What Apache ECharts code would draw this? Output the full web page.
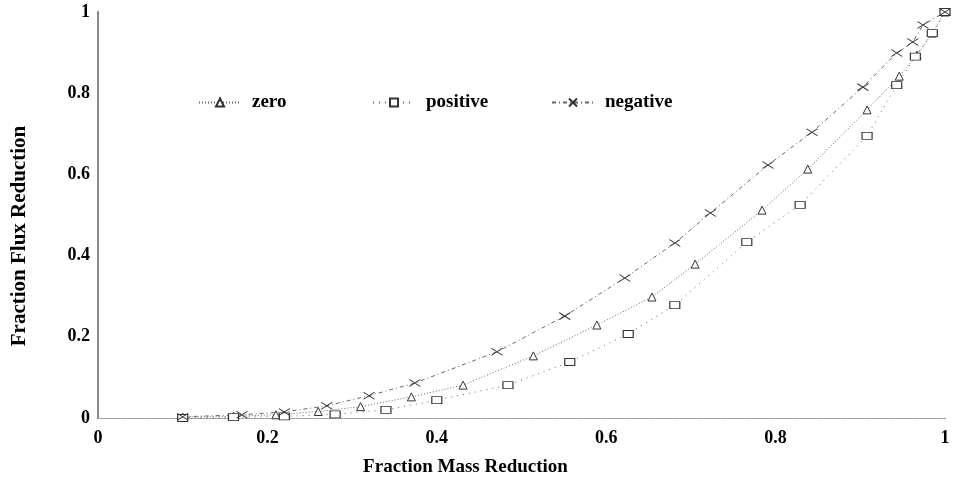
<!DOCTYPE html>
<html><head><meta charset="utf-8">
<script src="https://cdn.jsdelivr.net/npm/echarts@6/dist/echarts.min.js"></script>
<style>html,body{margin:0;padding:0;background:#fff}#c{width:953px;height:477px}</style>
</head><body><div id="c"></div>
<script>
const xTicks = [0, 0.2, 0.4, 0.6, 0.8, 1];
const yTicks = [0, 0.2, 0.4, 0.6, 0.8, 1];
const seriesNames = ['zero', 'positive', 'negative'];
const zeroData = [[0.10,0.002],[0.16,0.004],[0.21,0.008],[0.26,0.016],[0.31,0.028],[0.37,0.052],[0.431,0.081],[0.514,0.153],[0.589,0.229],[0.654,0.298],[0.705,0.379],[0.784,0.512],[0.838,0.613],[0.908,0.759],[0.946,0.842],[0.967,0.894],[0.985,0.948],[1.0,1.0]];
const positiveData = [[0.10,0.0],[0.16,0.002],[0.22,0.004],[0.28,0.009],[0.34,0.02],[0.40,0.044],[0.484,0.081],[0.557,0.138],[0.626,0.207],[0.681,0.278],[0.766,0.433],[0.829,0.525],[0.908,0.695],[0.943,0.82],[0.965,0.89],[0.985,0.948],[1.0,1.0]];
const negativeData = [[0.10,0.003],[0.17,0.008],[0.22,0.015],[0.27,0.03],[0.32,0.055],[0.374,0.086],[0.471,0.163],[0.551,0.251],[0.622,0.345],[0.681,0.431],[0.723,0.505],[0.791,0.623],[0.843,0.704],[0.903,0.815],[0.943,0.899],[0.962,0.926],[0.974,0.968],[1.0,1.0]];

const font = 'Liberation Serif';
const chart = echarts.init(document.getElementById('c'));
const xPath = 'path://M0,0L10,10M0,10L10,0';
function legendFor(name, left) {
  return {data: [name], left: left, top: 88, itemWidth: 42, itemHeight: 10, itemGap: 0,
    textStyle: {fontFamily: font, fontWeight: 'bold', fontSize: 19, color: '#000', padding: [0,0,0,6]}};
}
chart.setOption({
  animation: false,
  backgroundColor: '#fff',
  grid: {left: 98, right: 8, top: 12, bottom: 59, show: false, containLabel: false, outerBoundsMode: 'none'},
  legend: [legendFor('zero', 193), legendFor('positive', 367), legendFor('negative', 546)],
  xAxis: [{
    type: 'value', min: 0, max: 1, interval: 0.2,
    axisLine: {show: true, lineStyle: {color: '#777', width: 1, type: [1,2]}},
    axisTick: {show: false}, splitLine: {show: false},
    axisLabel: {margin: 11, fontFamily: font, fontWeight: 'bold', fontSize: 18, color: '#000',
      formatter: v => { const t = xTicks.find(k => Math.abs(k - v) < 1e-9); return t === undefined ? '' : String(t); }},
    name: 'Fraction Mass Reduction', nameLocation: 'middle', nameGap: 40,
    nameTextStyle: {fontFamily: font, fontWeight: 'bold', fontSize: 19, color: '#000', padding: [0,112,0,0]}
  }, {
    type: 'value', min: 0, max: 1, position: 'top',
    axisLine: {show: true, lineStyle: {color: '#888', width: 1, type: [1,2]}},
    axisTick: {show: false}, axisLabel: {show: false}, splitLine: {show: false}
  }],
  yAxis: [{
    type: 'value', min: 0, max: 1, interval: 0.2,
    axisLine: {show: true, lineStyle: {color: '#888', width: 1}},
    axisTick: {show: false}, splitLine: {show: false},
    axisLabel: {margin: 8, fontFamily: font, fontWeight: 'bold', fontSize: 18, color: '#000',
      formatter: v => { const t = yTicks.find(k => Math.abs(k - v) < 1e-9); return t === undefined ? '' : String(t); }},
    name: 'Fraction Flux Reduction', nameLocation: 'middle', nameGap: 68, nameRotate: 90,
    nameTextStyle: {fontFamily: font, fontWeight: 'bold', fontSize: 21, color: '#000', padding: [0,42,0,0]}
  }, {
    type: 'value', min: 0, max: 1, position: 'right',
    axisLine: {show: true, lineStyle: {color: '#888', width: 2}},
    axisTick: {show: false}, axisLabel: {show: false}, splitLine: {show: false}
  }],
  series: [{
    name: seriesNames[0], type: 'line', data: zeroData,
    symbol: 'triangle', symbolSize: 8, showAllSymbol: true,
    lineStyle: {color: '#666', width: 1, type: [1,2]},
    itemStyle: {color: '#fff', borderColor: '#333', borderWidth: 1}
  }, {
    name: seriesNames[1], type: 'line', data: positiveData,
    symbol: 'rect', symbolSize: [10, 7], showAllSymbol: true,
    lineStyle: {color: '#666', width: 1, type: [1,5]},
    itemStyle: {color: '#fff', borderColor: '#333', borderWidth: 1}
  }, {
    name: seriesNames[2], type: 'line', data: negativeData,
    symbol: xPath, symbolSize: [11, 7], showAllSymbol: true,
    lineStyle: {color: '#666', width: 1, type: [4,3,1,3]},
    itemStyle: {color: 'transparent', borderColor: '#333', borderWidth: 1}
  }]
});
</script></body></html>
